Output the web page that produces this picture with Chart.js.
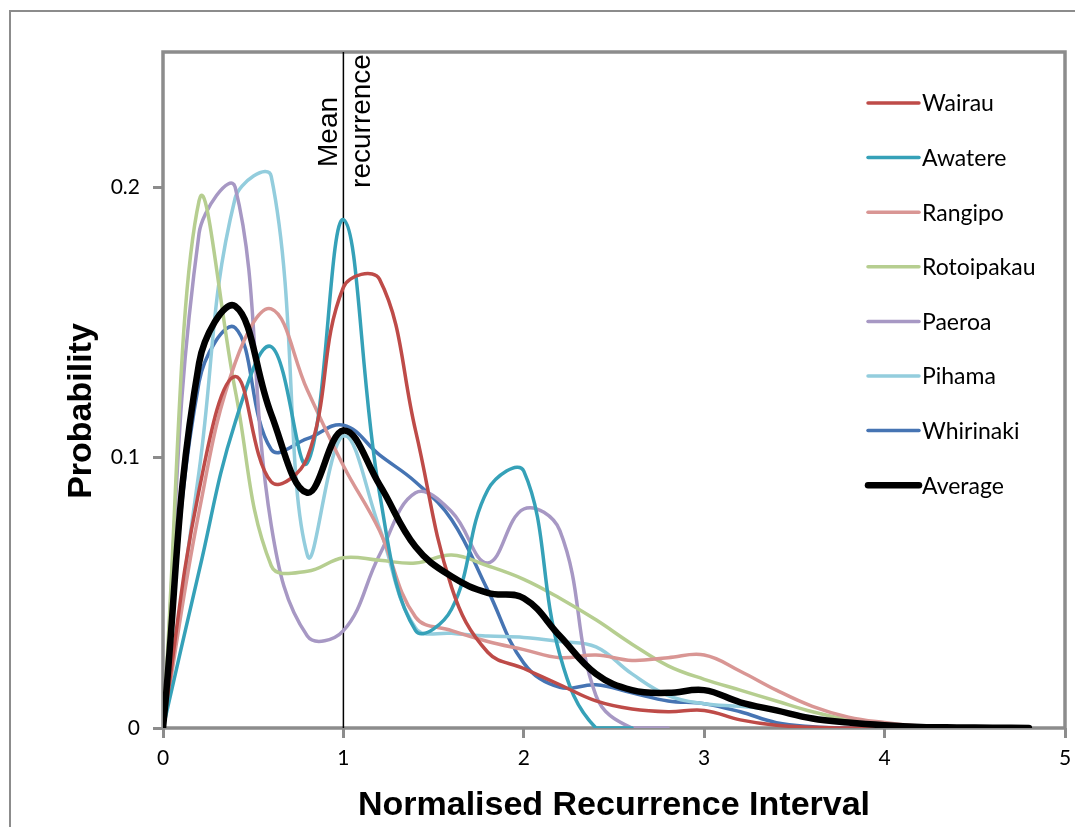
<!DOCTYPE html>
<html>
<head>
<meta charset="utf-8">
<script src="https://cdn.jsdelivr.net/npm/chart.js@4.4.1/dist/chart.umd.min.js"></script>
<style>
  html, body { margin: 0; padding: 0; background: #fff; }
  #wrap { width: 1075px; height: 827px; }
</style>
</head>
<body>
<div id="wrap"><canvas id="myChart1" width="1075" height="827"></canvas></div>
<script>
// normalised recurrence interval, sampled every 0.2
const xValues = [0, 0.2, 0.4, 0.6, 0.8, 1.0, 1.2, 1.4, 1.6, 1.8, 2.0, 2.2, 2.4,
  2.6, 2.8, 3.0, 3.2, 3.4, 3.6, 3.8, 4.0, 4.2, 4.4, 4.6, 4.8];

const wairau = [0, 0.088, 0.130, 0.091, 0.100, 0.163, 0.166, 0.110, 0.052, 0.028, 0.022, 0.016, 0.010,
  0.007, 0.006, 0.0065, 0.003, 0.001, 0.0003, 0, 0, 0, 0, 0, 0];
const awatere = [0, 0.058, 0.113, 0.141, 0.098, 0.188, 0.087, 0.036, 0.044, 0.088, 0.095, 0.027, 0, 0];
const rangipo = [0, 0.080, 0.135, 0.155, 0.125, 0.097, 0.073, 0.041, 0.036, 0.032, 0.029, 0.026, 0.027,
  0.025, 0.026, 0.027, 0.021, 0.014, 0.008, 0.004, 0.002, 0.0007, 0.0003, 0.0001, 0];
const rotoipakau = [0, 0.195, 0.125, 0.060, 0.058, 0.063, 0.062, 0.061, 0.064, 0.060, 0.055, 0.048, 0.040,
  0.031, 0.023, 0.018, 0.014, 0.010, 0.006, 0.003, 0.001, 0.0005, 0.0002, 0, 0];
const paeroa = [0, 0.183, 0.200, 0.075, 0.034, 0.036, 0.064, 0.087, 0.080, 0.061, 0.081, 0.073, 0.012, 0, 0];
const pihama = [0, 0.095, 0.196, 0.204, 0.064, 0.108, 0.074, 0.037, 0.035, 0.034, 0.0335, 0.032, 0.030,
  0.020, 0.012, 0.009, 0.008, 0.0065, 0.004, 0.002, 0.001, 0.0005, 0, 0, 0];
const whirinaki = [0, 0.128, 0.148, 0.103, 0.107, 0.112, 0.101, 0.091, 0.077, 0.051, 0.024, 0.015, 0.016,
  0.013, 0.010, 0.009, 0.006, 0.002, 0.0005, 0, 0, 0, 0, 0, 0];
const average = [0, 0.135, 0.156, 0.116, 0.087, 0.110, 0.090, 0.067, 0.056, 0.050, 0.048, 0.034, 0.020,
  0.014, 0.013, 0.014, 0.0095, 0.0065, 0.0035, 0.002, 0.001, 0.0004, 0.0002, 0.0001, 0];

const seriesNames = ["Wairau", "Awatere", "Rangipo", "Rotoipakau", "Paeroa", "Pihama", "Whirinaki", "Average"];
const seriesValues = [wairau, awatere, rangipo, rotoipakau, paeroa, pihama, whirinaki, average];
const seriesColors = ["#BE4B48", "#35A1B8", "#D99694", "#B6CE90", "#A798C4", "#93CDDD", "#4674B3", "#000000"];

const xTicks = [0, 1, 2, 3, 4, 5];
const yTicks = [0, 0.1, 0.2];
const meanX = 1;
const yTitle = "Probability";

const toPoints = (ys) => ys.map((y, i) => ({ x: xValues[i], y: y }));

const datasets = seriesNames.map((name, i) => ({
  label: name,
  data: toPoints(seriesValues[i]),
  borderColor: seriesColors[i],
  backgroundColor: seriesColors[i],
  borderWidth: name === "Average" ? 6.5 : 3.5,
  pointRadius: 0,
  tension: 0.4,
  fill: false,
  borderCapStyle: "round",
  borderJoinStyle: "round",
  order: name === "Average" ? 0 : 1,
}));

const gray = "#8c8c8c";

// white page, outer frame, plot border and the mean recurrence marker
const decorations = {
  id: "decorations",
  beforeDraw(chart) {
    const ctx = chart.ctx;
    ctx.save();
    ctx.fillStyle = "#fff";
    ctx.fillRect(0, 0, chart.width, chart.height);
    ctx.strokeStyle = gray;
    ctx.lineWidth = 2;
    ctx.strokeRect(10, 11, chart.width + 40, chart.height + 40);
    ctx.restore();
  },
  beforeDatasetsDraw(chart) {
    const { ctx, chartArea: a, scales } = chart;
    ctx.save();
    ctx.strokeStyle = gray;
    ctx.lineWidth = 3.5;
    ctx.strokeRect(a.left, a.top, a.right - a.left, a.bottom - a.top);

    const mx = scales.x.getPixelForValue(meanX);
    ctx.strokeStyle = "#000";
    ctx.lineWidth = 1.5;
    ctx.beginPath();
    ctx.moveTo(mx, a.bottom);
    ctx.lineTo(mx, a.top);
    ctx.stroke();

    ctx.fillStyle = "#000";
    ctx.font = '28px "Liberation Sans", Arial, sans-serif';
    ctx.textAlign = "center";
    ctx.textBaseline = "alphabetic";
    ctx.save();
    ctx.translate(mx - 6, a.top + 80);
    ctx.rotate(-Math.PI / 2);
    ctx.fillText("Mean", 0, 0);
    ctx.restore();
    ctx.save();
    ctx.translate(mx + 27, a.top + 69);
    ctx.rotate(-Math.PI / 2);
    ctx.fillText("recurrence", 0, 0);
    ctx.restore();

    // y axis title, sitting a little below the middle of the plot as in the original
    ctx.font = 'bold 34px "Liberation Sans", Arial, sans-serif';
    ctx.textBaseline = "middle";
    ctx.save();
    ctx.translate(82, (a.top + a.bottom) / 2 + 21);
    ctx.rotate(-Math.PI / 2);
    ctx.fillText(yTitle, 0, 0);
    ctx.restore();
    ctx.restore();
  },
  afterDatasetsDraw(chart) {
    const { ctx, chartArea: a } = chart;
    ctx.save();
    ctx.font = '23px Lato, "Open Sans", sans-serif';
    ctx.textAlign = "left";
    ctx.textBaseline = "middle";
    ctx.lineCap = "round";
    chart.data.datasets.forEach((ds, i) => {
      const y = a.top + 51 + i * 54.6;
      ctx.strokeStyle = ds.borderColor;
      ctx.lineWidth = ds.borderWidth;
      ctx.beginPath();
      ctx.moveTo(a.right - 197, y);
      ctx.lineTo(a.right - 146, y);
      ctx.stroke();
      ctx.fillStyle = "#000";
      ctx.fillText(ds.label, a.right - 143, y + 1);
    });
    ctx.restore();
  },
};

new Chart(document.getElementById("myChart1"), {
  type: "line",
  data: { datasets: datasets },
  plugins: [decorations],
  options: {
    responsive: false,
    animation: false,
    devicePixelRatio: 1,
    layout: { padding: { left: 0, top: 52, right: 10, bottom: 0 } },
    plugins: {
      legend: { display: false },
      tooltip: { enabled: false },
    },
    scales: {
      x: {
        type: "linear",
        min: 0,
        max: 5,
        afterBuildTicks: (s) => { s.ticks = xTicks.map((v) => ({ value: v })); },
        afterFit: (s) => { s.height = 99; s.paddingLeft = 0; s.paddingRight = 0; },
        grid: { drawOnChartArea: false, drawTicks: true, tickLength: 10, color: gray, lineWidth: 3 },
        border: { display: false },
        ticks: {
          color: "#000",
          padding: 8,
          font: { family: 'Lato, "Open Sans", sans-serif', size: 21 },
          callback: (v) => String(v),
        },
        title: {
          display: true,
          text: "Normalised Recurrence Interval",
          color: "#000",
          font: { family: '"Liberation Sans", Arial, sans-serif', size: 34, weight: "bold" },
          padding: { top: 0, bottom: 1 },
        },
      },
      y: {
        type: "linear",
        min: 0,
        max: 0.25,
        afterBuildTicks: (s) => { s.ticks = yTicks.map((v) => ({ value: v })); },
        afterFit: (s) => { s.width = 163; },
        grid: { drawOnChartArea: false, drawTicks: true, tickLength: 10, color: gray, lineWidth: 3 },
        border: { display: false },
        ticks: {
          color: "#000",
          padding: 13,
          font: { family: 'Lato, "Open Sans", sans-serif', size: 21 },
          callback: (v) => String(v),
        },
        title: { display: false },
      },
    },
  },
});
</script>
</body>
</html>
